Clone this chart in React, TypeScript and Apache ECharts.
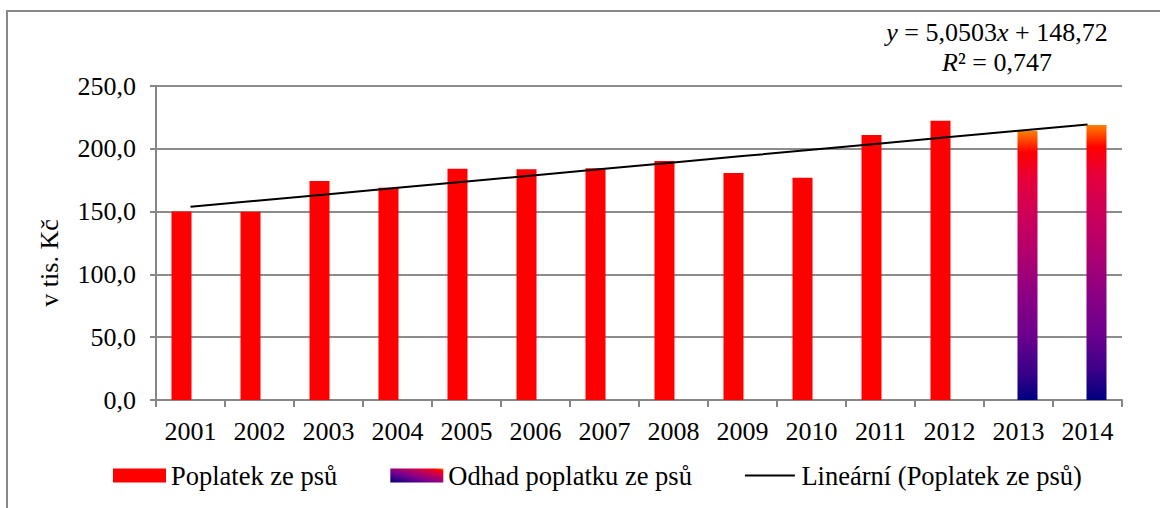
import React, { useEffect, useRef } from "react";
import * as echarts from "echarts";

const years = ["2001", "2002", "2003", "2004", "2005", "2006", "2007", "2008", "2009", "2010", "2011", "2012", "2013", "2014"];
const poplatek: (number | string)[] = [150.0, 149.8, 174.4, 169.0, 184.2, 183.7, 184.5, 190.3, 180.7, 177.0, 211.0, 222.4, "-", "-"];
const odhad: (number | string)[] = ["-", "-", "-", "-", "-", "-", "-", "-", "-", "-", "-", "-", 214.4, 219.0];
const trendSlope = 5.0503;
const trendIntercept = 148.72;
const rSquared = "0,747";
const yTicks = [0, 50, 100, 150, 200, 250];

const FONT = "Liberation Serif";

export default function App() {
  const ref = useRef<HTMLDivElement>(null);
  useEffect(() => {
    if (!ref.current) return;
    const chart = echarts.init(ref.current, null, { renderer: "svg" });
    const trend = years.map((_, i) => +(trendIntercept + trendSlope * (i + 1)).toFixed(3));
    const barGrad = new echarts.graphic.LinearGradient(0, 0, 0, 1, [
      { offset: 0, color: "#ff8000" },
      { offset: 0.08, color: "#ff0000" },
      { offset: 0.18, color: "#e6003a" },
      { offset: 0.32, color: "#cc005a" },
      { offset: 0.47, color: "#ae0070" },
      { offset: 0.62, color: "#8a0084" },
      { offset: 0.76, color: "#6c008e" },
      { offset: 0.9, color: "#380088" },
      { offset: 1, color: "#000080" },
    ]);
    const legendGrad = new echarts.graphic.LinearGradient(0, 1, 1, 0, [
      { offset: 0, color: "#000080" },
      { offset: 0.4, color: "#780090" },
      { offset: 0.75, color: "#d0004a" },
      { offset: 0.9, color: "#ff0000" },
      { offset: 1, color: "#ff8000" },
    ]);
    const lineIcon = "path://M0,0L0.01,0L0,0.01Z M0,6H50V8H0Z M0,14L0.01,14L0,13.99Z";
    chart.setOption({
      animation: false,
      textStyle: { fontFamily: FONT },
      grid: { left: 156, right: 38, top: 86, bottom: 108 },
      legend: {
        left: 108,
        top: 457,
        itemWidth: 53,
        itemHeight: 14,
        itemGap: 53,
        textStyle: { fontFamily: FONT, fontSize: 26.5, color: "#000" },
        data: [
          { name: "Poplatek ze psů", icon: "rect" },
          { name: "Odhad poplatku ze psů", icon: "rect", itemStyle: { color: legendGrad } },
          { name: "Lineární (Poplatek ze psů)", icon: lineIcon, itemStyle: { color: "#000" } },
        ],
      },
      xAxis: {
        type: "category",
        data: years,
        boundaryGap: true,
        axisLine: { lineStyle: { color: "#868686", width: 2 } },
        axisTick: { show: true, alignWithLabel: false, length: 7, lineStyle: { color: "#868686", width: 2 } },
        axisLabel: { fontFamily: FONT, fontSize: 26, color: "#000", margin: 18 },
      },
      yAxis: {
        type: "value",
        min: yTicks[0],
        max: yTicks[yTicks.length - 1],
        interval: 50,
        axisLine: { show: true, lineStyle: { color: "#868686", width: 2 } },
        axisTick: { show: true, length: 6, lineStyle: { color: "#868686", width: 2 } },
        splitLine: { lineStyle: { color: "#8c8c8c", width: 2 } },
        axisLabel: {
          fontFamily: FONT,
          fontSize: 26,
          color: "#000",
          margin: 20,
          formatter: (v: number) => v.toFixed(1).replace(".", ","),
        },
      },
      series: [
        {
          name: "Poplatek ze psů",
          type: "bar",
          data: poplatek,
          barWidth: 20,
          barGap: "-10%",
          itemStyle: { color: "#ff0000" },
        },
        {
          name: "Odhad poplatku ze psů",
          type: "bar",
          data: odhad,
          barWidth: 20,
          barGap: "-10%",
          itemStyle: { color: barGrad },
        },
        {
          name: "Lineární (Poplatek ze psů)",
          type: "line",
          data: trend,
          symbol: "none",
          lineStyle: { color: "#000", width: 2 },
          itemStyle: { color: "#000" },
          z: 5,
        },
      ],
      graphic: [
        {
          type: "rect",
          shape: { x: 7, y: 11, width: 1300, height: 700 },
          style: { fill: "none", stroke: "#888", lineWidth: 2 },
          silent: true,
        },
        {
          type: "text",
          x: 49,
          y: 263,
          rotation: Math.PI / 2,
          style: {
            text: "v tis. Kč",
            fontFamily: FONT,
            fontSize: 26,
            fill: "#000",
            align: "center",
            verticalAlign: "middle",
          },
        },
        {
          type: "text",
          x: 997,
          y: 32,
          style: {
            text: "{i|y} = 5,0503{i|x} + 148,72",
            rich: { i: { fontStyle: "italic", fontFamily: FONT, fontSize: 26, fill: "#000" } },
            fontFamily: FONT,
            fontSize: 26,
            fill: "#000",
            align: "center",
            verticalAlign: "middle",
          },
        },
        {
          type: "text",
          x: 997,
          y: 62,
          style: {
            text: "{i|R}² = " + rSquared,
            rich: { i: { fontStyle: "italic", fontFamily: FONT, fontSize: 26, fill: "#000" } },
            fontFamily: FONT,
            fontSize: 26,
            fill: "#000",
            align: "center",
            verticalAlign: "middle",
          },
        },
      ],
    });
    return () => chart.dispose();
  }, []);
  return <div ref={ref} style={{ width: 1160, height: 508, position: "absolute", left: 0, top: 0 }} />;
}
